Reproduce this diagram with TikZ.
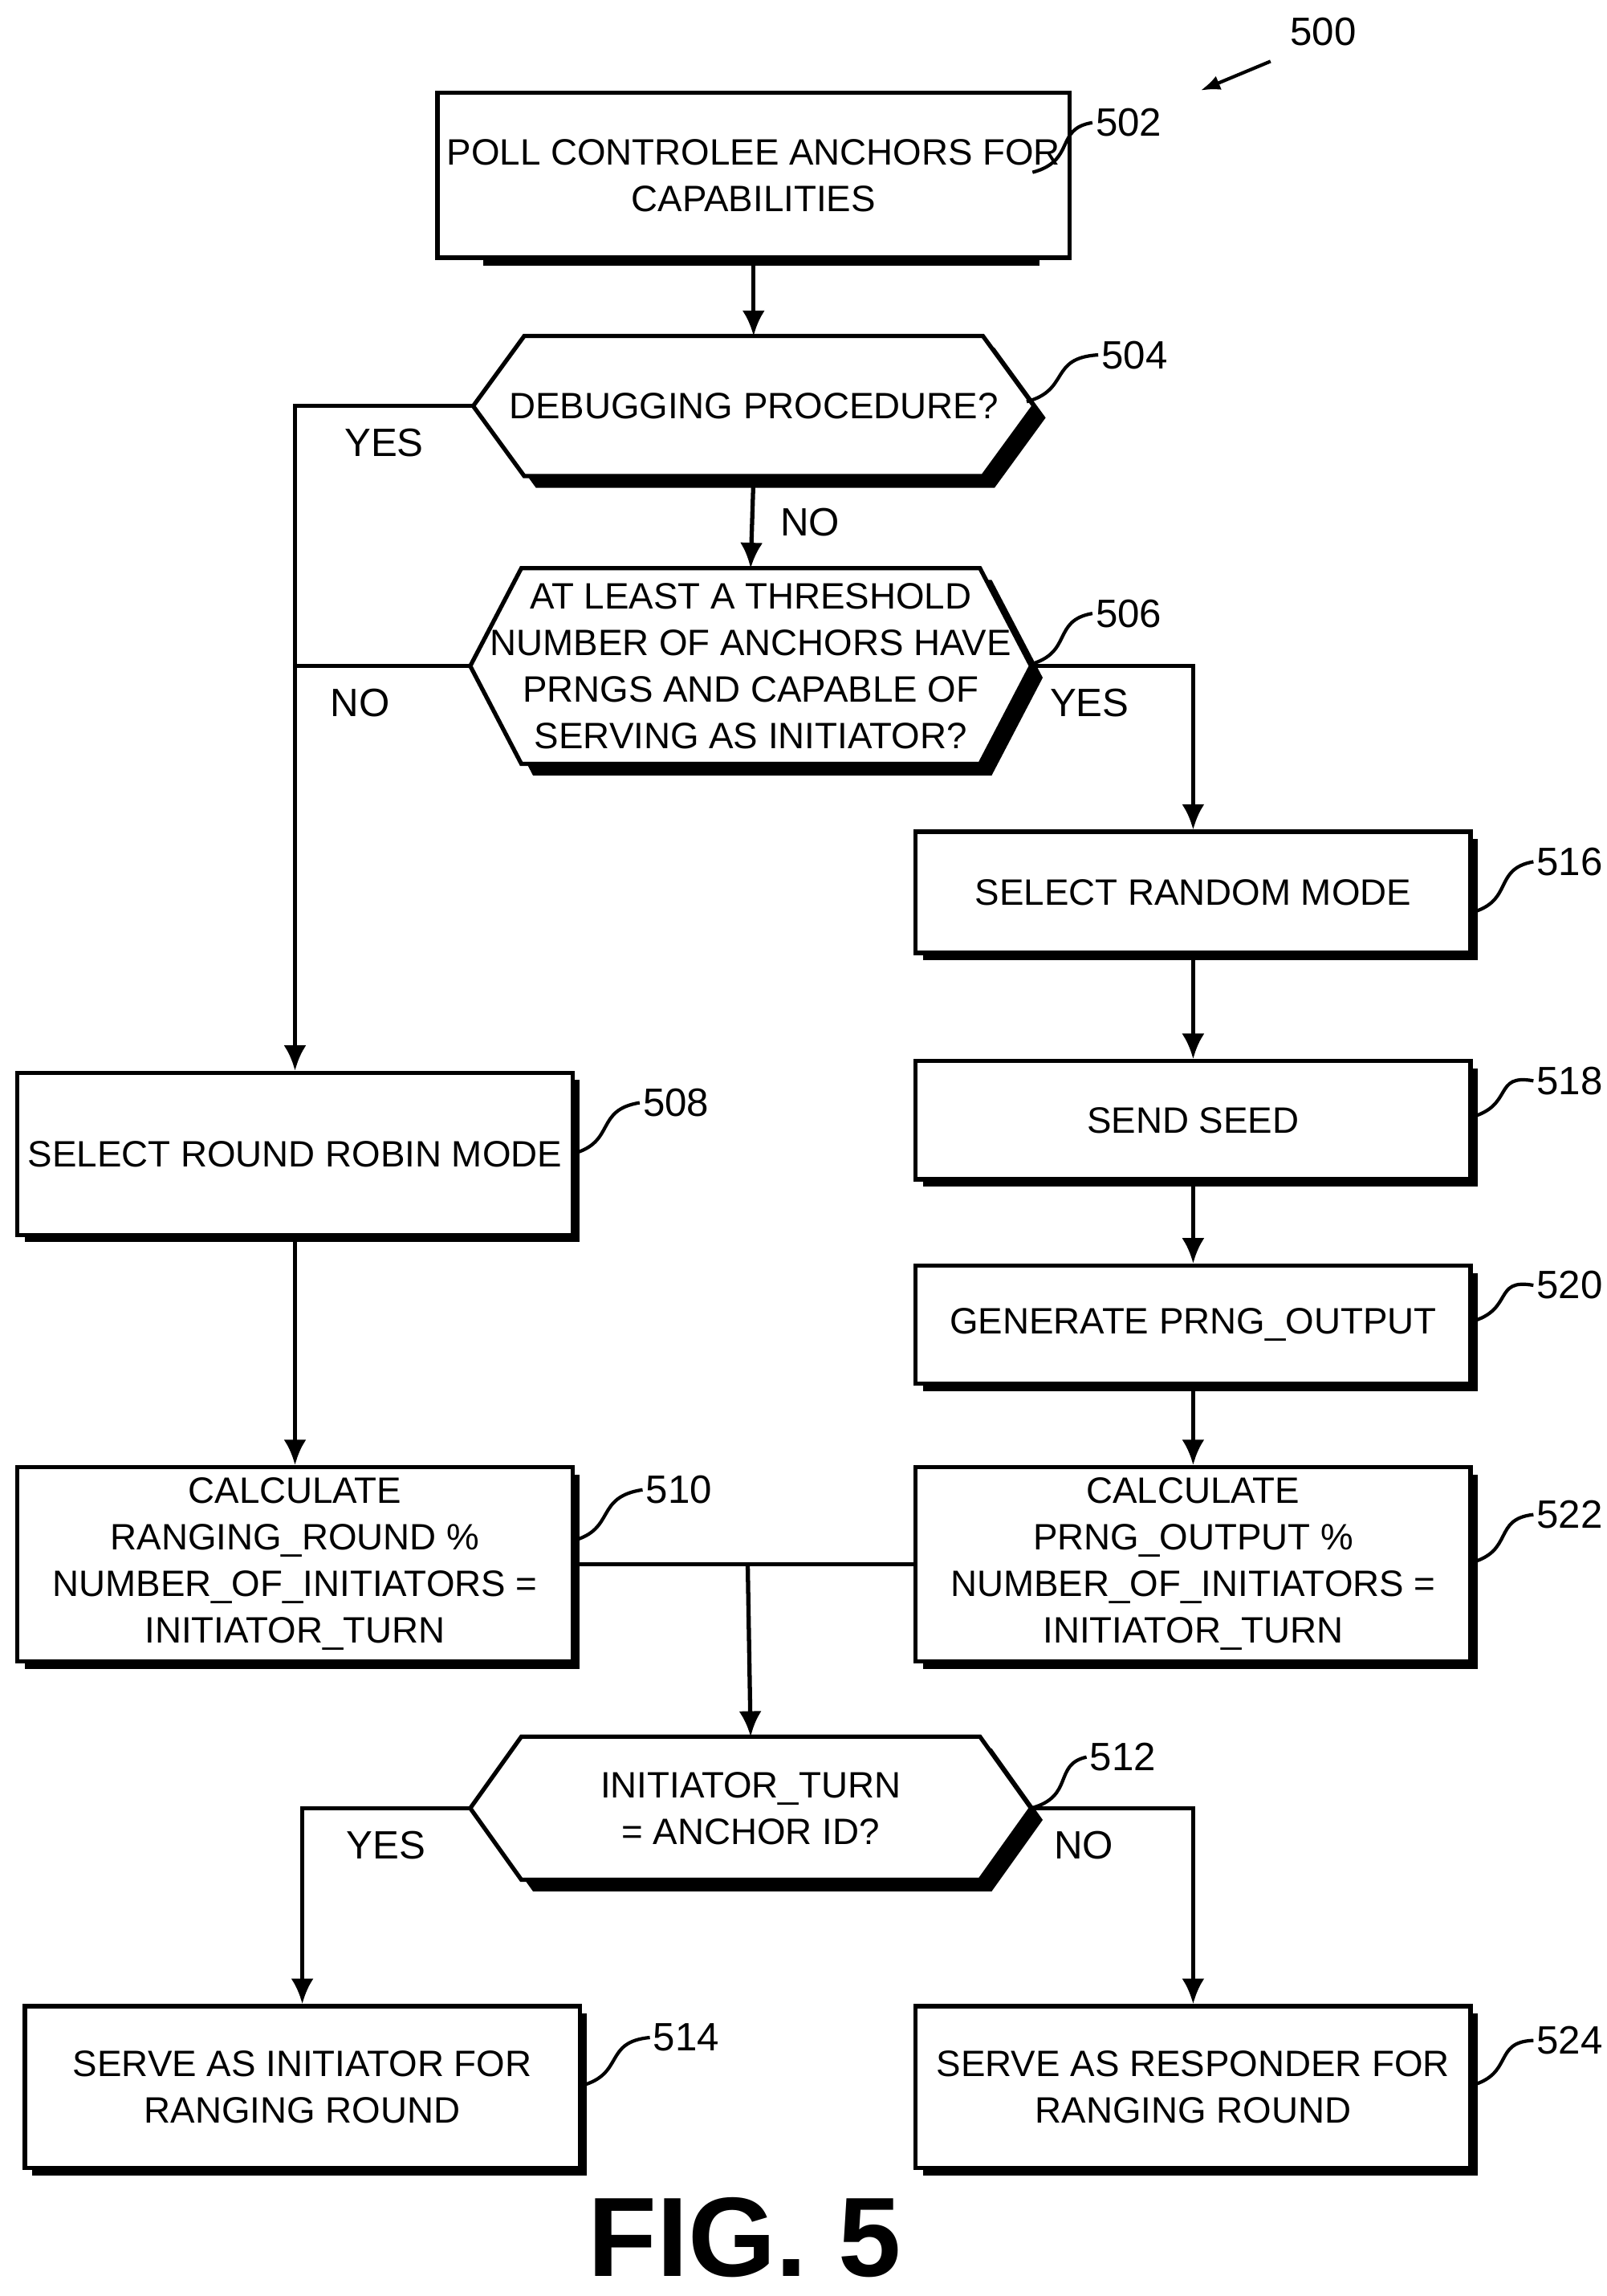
\documentclass[tikz,border=0pt]{standalone}
\usepackage{fontspec}
\setmainfont{Liberation Sans}
\usetikzlibrary{arrows.meta,calc}
\def\pu{0.01819cm}
\tikzset{
  box/.style={draw, line width=1.5pt, fill=white, align=center, minimum width=380*\pu, font=\fontsize{13}{16.5}\selectfont},
  hex/.style={align=center, font=\fontsize{13}{16.5}\selectfont},
  flow/.style={line width=1.5pt, -{Latex[length=9pt,width=8pt]}},
  link/.style={line width=1.5pt},
  lbl/.style={font=\fontsize{14}{16}\selectfont, anchor=west, inner sep=1pt},
  tag/.style={font=\fontsize{14}{16}\selectfont},
  lead/.style={line width=1.2pt}
}
% hexagon decision
\newcommand\hexa[4]{%
  \coordinate (#1) at (#2);
  \fill ($(#1)+(8,8)$) ++(-157,-#3/2) -- ++(314,0) -- ++(35,#3/2) -- ++(-35,#3/2) -- ++(-314,0) -- ++(-35,-#3/2) -- cycle;
  \draw[line width=1.5pt, fill=white] (#1) ++(-157,-#3/2) -- ++(314,0) -- ++(35,#3/2) coordinate (#1-e) -- ++(-35,#3/2) -- ++(-314,0) -- ++(-35,-#3/2) coordinate (#1-w) -- cycle;
  \coordinate (#1-n) at ($(#1)+(0,-#3/2)$);
  \coordinate (#1-s) at ($(#1)+(0,#3/2)$);
  \node[hex] at (#1) {#4};}
\begin{document}
\begin{tikzpicture}[x=\pu, y=-\pu]
\useasboundingbox (0,0) rectangle (1100,1572);
% boxes
\fill (521,125) ++(-190,-56) rectangle ++(381,113);
\node[box, minimum width=381*\pu, minimum height=113*\pu] (n502) at (516,120) {POLL CONTROLEE ANCHORS FOR\\CAPABILITIES};
\hexa{d504}{516,278}{96}{DEBUGGING PROCEDURE?}
\hexa{d506}{514,456}{134}{AT LEAST A THRESHOLD\\NUMBER OF ANCHORS HAVE\\PRNGS AND CAPABLE OF\\SERVING AS INITIATOR?}
\foreach \nm/\cx/\cy/\h/\txt in {
  n516/817/611/83/{SELECT RANDOM MODE},
  n518/817/767/81/{SEND SEED},
  n520/817/907/81/{GENERATE PRNG\_OUTPUT},
  n522/817/1071/133/{CALCULATE\\PRNG\_OUTPUT \%\\NUMBER\_OF\_INITIATORS =\\INITIATOR\_TURN},
  n508/202/790/111/{SELECT ROUND ROBIN MODE},
  n510/202/1071/133/{CALCULATE\\RANGING\_ROUND \%\\NUMBER\_OF\_INITIATORS =\\INITIATOR\_TURN},
  n514/207/1429/111/{SERVE AS INITIATOR FOR\\RANGING ROUND},
  n524/817/1429/111/{SERVE AS RESPONDER FOR\\RANGING ROUND}}{
  \fill (\cx+5,\cy+5) ++(-190,-\h/2) rectangle ++(380,\h);
  \node[box, minimum height=\h*\pu] (\nm) at (\cx,\cy) {\txt};
}
\hexa{d512}{514,1238}{98}{INITIATOR\_TURN\\= ANCHOR ID?}
% connectors
\draw[flow] (n502) -- (d504-n);
\draw[flow] (d504-s) -- node[tag, right=6pt] {NO} (d506-n);
\coordinate (j504) at (202,278);
\coordinate (j506) at (202,456);
\draw[flow] (d504-w) -- node[tag, below=4pt] {YES} (j504) -- (n508);
\draw[link] (d506-w) -- node[tag, below=4pt, xshift=-8pt] {NO} (j506);
\coordinate (k506) at (817,456);
\draw[flow] (d506-e) -- node[tag, below=4pt, xshift=-8pt] {YES} (k506) -- (n516);
\draw[flow] (n516) -- (n518);
\draw[flow] (n518) -- (n520);
\draw[flow] (n520) -- (n522);
\draw[flow] (n508) -- (n510);
\coordinate (m510) at (512,1071);
\draw[link] (n510) -- (n522);
\draw[flow] (m510) -- (d512-n);
\coordinate (j512) at (207,1238);
\coordinate (k512) at (817,1238);
\draw[flow] (d512-w) -- node[tag, below=4pt] {YES} (j512) -- (n514);
\draw[flow] (d512-e) -- node[tag, below=4pt, xshift=-10pt] {NO} (k512) -- (n524);
% reference numbers
\foreach \nm/\num/\sx/\sy/\lx/\ly in {
  d504/504/703/275/752/243, d506/506/705/455/748/420,
  n516/516/1007/625/1050/590, n518/518/1007/765/1050/740, n520/520/1007/905/1050/880,
  n522/522/1007/1070/1050/1037, n508/508/392/790/438/755, n510/510/392/1055/440/1020,
  d512/512/706/1238/744/1203, n514/514/398/1428/445/1395, n524/524/1007/1428/1050/1397}{
  \node[lbl] (l\nm) at (\lx,\ly) {\num};
  \draw[lead] (\sx,\sy) .. controls (\sx+30,\sy-8) and (\sx+15,\sy-30) .. (l\nm.west);
}
\node[lbl] (ln502) at (748,84) {502};
\draw[lead] (707,118) .. controls (737,110) and (722,88) .. (ln502.west);
\node[tag] (l500) at (906,22) {500};
\draw[lead, -{Latex[length=7pt]}] (870,42) -- (822,62);
\node[font=\fontsize{40}{40}\selectfont\bfseries\rmfamily] (fig) at (510,1532) {FIG. 5};
\end{tikzpicture}
\end{document}
